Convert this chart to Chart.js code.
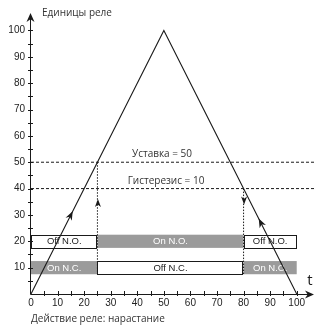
<!DOCTYPE html>
<html>
<head>
<meta charset="utf-8">
<script src="https://cdn.jsdelivr.net/npm/chart.js@4.4.1/dist/chart.umd.min.js"></script>
<style>
  html, body { margin: 0; padding: 0; background: #fff; }
  #wrap { width: 316px; height: 326px; }
</style>
</head>
<body>
<div id="wrap"><canvas id="relay"></canvas></div>
<script>
// Треугольный сигнал
const signalX = [0, 50, 100];
const signalY = [0, 100, 0];

// Уставка и гистерезис
const setpoint = 50;
const hysteresis = 10;
const switchOnX = 25;
const switchOffX = 80;

// Деления осей
const xTicks = [0, 10, 20, 30, 40, 50, 60, 70, 80, 90, 100];
const yTicks = [10, 20, 30, 40, 50, 60, 70, 80, 90, 100];

// Полосы состояний N.O. (y = 20) и N.C. (y = 10)
const noStart = [0, 25, 80];
const noEnd = [25, 80, 100];
const noLabels = ["Off N.O.", "On N.O.", "Off N.O."];
const noActive = [false, true, false];

const ncStart = [0, 25, 80];
const ncEnd = [25, 80, 100];
const ncLabels = ["On N.C.", "Off N.C.", "On N.C."];
const ncActive = [true, false, true];

// Стрелки на линиях
const lineArrowX = [15.7, 85.7];
const vertArrowY = [36, 34];

const GRAY = "#9b9b9b";
const INK = "#1a1a1a";

function arrowHead(ctx, x, y, angle, len, half) {
    ctx.save();
    ctx.translate(x, y);
    ctx.rotate(angle);
    ctx.beginPath();
    ctx.moveTo(0, 0);
    ctx.lineTo(-len, -half);
    ctx.lineTo(-len * 0.7, 0);
    ctx.lineTo(-len, half);
    ctx.closePath();
    ctx.fillStyle = INK;
    ctx.fill();
    ctx.restore();
}

function signalAt(x) {
    return x <= signalX[1]
        ? signalY[0] + (signalY[1] - signalY[0]) * (x - signalX[0]) / (signalX[1] - signalX[0])
        : signalY[1] + (signalY[2] - signalY[1]) * (x - signalX[1]) / (signalX[2] - signalX[1]);
}

// Полосы состояний под линиями
const bandsPlugin = {
    id: "bands",
    beforeDatasetsDraw(chart) {
        const ctx = chart.ctx;
        const xs = chart.scales.x, ys = chart.scales.y;
        function row(center, starts, ends, labels, active) {
            const top = ys.getPixelForValue(center + 2.5);
            const bot = ys.getPixelForValue(center - 2.5);
            starts.forEach((s, i) => {
                const l = xs.getPixelForValue(s), r = xs.getPixelForValue(ends[i]);
                ctx.save();
                if (active[i]) {
                    ctx.fillStyle = GRAY;
                    ctx.fillRect(l, top, r - l, bot - top);
                } else {
                    ctx.fillStyle = "#fff";
                    ctx.fillRect(l, top, r - l, bot - top);
                    ctx.strokeStyle = INK;
                    ctx.lineWidth = 1;
                    ctx.strokeRect(Math.round(l) + 0.5, Math.round(top) + 0.5, Math.round(r - l) - 1, Math.round(bot - top));
                }
                ctx.fillStyle = active[i] ? "#fff" : INK;
                ctx.font = "9.5px 'Liberation Sans', Arial, sans-serif";
                ctx.textAlign = "center";
                ctx.textBaseline = "middle";
                ctx.fillText(labels[i], (l + r) / 2, (top + bot) / 2 + 0.5);
                ctx.restore();
            });
        }
        row(20, noStart, noEnd, noLabels, noActive);
        row(10, ncStart, ncEnd, ncLabels, ncActive);
    }
};

// Оси со стрелками, деления, подписи и стрелки направления
const axesPlugin = {
    id: "axes",
    afterDatasetsDraw(chart) {
        const ctx = chart.ctx;
        const xs = chart.scales.x, ys = chart.scales.y;
        const x0 = Math.round(xs.getPixelForValue(0)) - 0.5;
        const y0 = Math.round(ys.getPixelForValue(0)) + 0.5;
        const xEnd = xs.getPixelForValue(106.5);
        const yEnd = ys.getPixelForValue(106.6);

        ctx.save();
        ctx.strokeStyle = INK;
        ctx.lineWidth = 1;
        ctx.beginPath();
        ctx.moveTo(x0, y0);
        ctx.lineTo(xEnd - 4, y0);
        ctx.moveTo(x0, y0);
        ctx.lineTo(x0, yEnd + 4);
        // деления через 5
        for (let v = 5; v <= 100; v += 5) {
            const px = Math.round(xs.getPixelForValue(v)) + 0.5;
            ctx.moveTo(px, y0 - 3.5);
            ctx.lineTo(px, y0 + 1.5);
            const py = Math.round(ys.getPixelForValue(v)) + 0.5;
            ctx.moveTo(x0 - 2.5, py);
            ctx.lineTo(x0 + 2.5, py);
        }
        ctx.stroke();
        arrowHead(ctx, xEnd, y0, 0, 9, 4);
        arrowHead(ctx, x0, yEnd, -Math.PI / 2, 9, 4);

        // стрелки на треугольнике
        lineArrowX.forEach(ax => {
            const px = xs.getPixelForValue(ax), py = ys.getPixelForValue(signalAt(ax));
            const bx = xs.getPixelForValue(ax - (ax < 50 ? 1 : -1));
            const by = ys.getPixelForValue(signalAt(ax - (ax < 50 ? 1 : -1)));
            arrowHead(ctx, px, py, Math.atan2(py - by, px - bx), 9, 3.5);
        });
        // стрелки на вертикальных линиях
        arrowHead(ctx, xs.getPixelForValue(switchOnX) + 0.5, ys.getPixelForValue(vertArrowY[0]), -Math.PI / 2, 8, 3);
        arrowHead(ctx, xs.getPixelForValue(switchOffX) + 0.5, ys.getPixelForValue(vertArrowY[1]), Math.PI / 2, 8, 3);

        // подписи
        ctx.fillStyle = "#333";
        ctx.textBaseline = "middle";
        ctx.textAlign = "left";
        ctx.font = "10px 'Open Sans', sans-serif";
        ctx.fillText("Единицы реле", 42, 13);
        ctx.fillText("Действие реле: нарастание", 31, 319);
        ctx.textAlign = "center";
        ctx.fillText("Уставка = " + setpoint, 162, ys.getPixelForValue(setpoint) - 8);
        ctx.fillText("Гистерезис = " + hysteresis, 166, ys.getPixelForValue(setpoint - hysteresis) - 7);
        ctx.fillStyle = INK;
        ctx.font = "15px 'Open Sans', sans-serif";
        ctx.fillText("t", 310, 281);
        ctx.restore();
    }
};

document.addEventListener("DOMContentLoaded", () => {
    const ctx = document.getElementById("relay").getContext("2d");

    new Chart(ctx, {
        type: "scatter",
        data: {
            datasets: [
                {
                    data: signalX.map((x, i) => ({ x: x, y: signalY[i] })),
                    showLine: true,
                    borderColor: INK,
                    borderWidth: 1.1,
                    pointRadius: 0,
                },
                {
                    data: [{ x: 0, y: setpoint }, { x: 120, y: setpoint }],
                    showLine: true,
                    borderColor: INK,
                    borderWidth: 1,
                    borderDash: [3, 2],
                    pointRadius: 0,
                    clip: false,
                },
                {
                    data: [{ x: 0, y: setpoint - hysteresis }, { x: 120, y: setpoint - hysteresis }],
                    showLine: true,
                    borderColor: INK,
                    borderWidth: 1,
                    borderDash: [3, 2],
                    pointRadius: 0,
                    clip: false,
                },
                {
                    data: [{ x: switchOnX, y: setpoint }, { x: switchOnX, y: 7.5 }],
                    showLine: true,
                    borderColor: INK,
                    borderWidth: 1,
                    borderDash: [1.5, 1.5],
                    pointRadius: 0,
                },
                {
                    data: [{ x: switchOffX, y: setpoint - hysteresis }, { x: switchOffX, y: 7.5 }],
                    showLine: true,
                    borderColor: INK,
                    borderWidth: 1,
                    borderDash: [1.5, 1.5],
                    pointRadius: 0,
                },
            ],
        },
        options: {
            responsive: true,
            maintainAspectRatio: false,
            devicePixelRatio: 1,
            animation: false,
            layout: { padding: { top: 8, right: 6, left: 0, bottom: 0 } },
            scales: {
                x: {
                    type: "linear",
                    min: 0,
                    max: 105,
                    grid: { display: false, drawTicks: false },
                    border: { display: false },
                    afterBuildTicks: s => { s.ticks = xTicks.map(v => ({ value: v })); },
                    afterFit: s => { s.height = 32; },
                    ticks: {
                        color: "#222",
                        padding: 3,
                        maxRotation: 0,
                        autoSkip: false,
                        font: { family: "'Liberation Sans', Arial, sans-serif", size: 10 },
                    },
                },
                y: {
                    type: "linear",
                    min: 0,
                    max: 107,
                    grid: { display: false, drawTicks: false },
                    border: { display: false },
                    afterBuildTicks: s => { s.ticks = yTicks.map(v => ({ value: v })); },
                    afterFit: s => { s.width = 31; },
                    ticks: {
                        color: "#222",
                        padding: 6,
                        font: { family: "'Liberation Sans', Arial, sans-serif", size: 10 },
                    },
                },
            },
            plugins: {
                legend: { display: false },
                tooltip: { enabled: false },
            },
        },
        plugins: [bandsPlugin, axesPlugin],
    });
});
</script>
</body>
</html>
